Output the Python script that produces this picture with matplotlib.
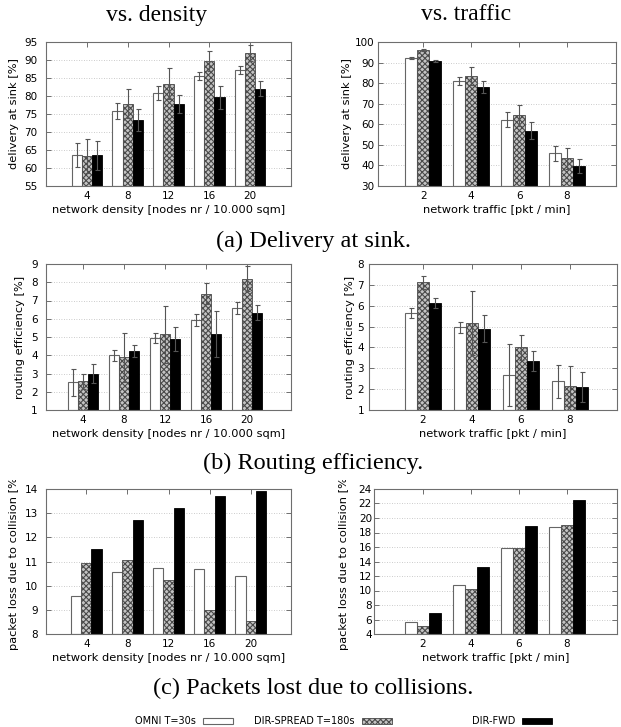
import matplotlib
matplotlib.use("Agg")
import matplotlib.pyplot as plt
import numpy as np
from matplotlib.patches import Rectangle
from matplotlib.transforms import Bbox, TransformedBbox

# ---------------- data ----------------
series_labels = ["OMNI T=30s", "DIR-SPREAD T=180s", "DIR-FWD"]
density_cats = ["4", "8", "12", "16", "20"]
traffic_cats = ["2", "4", "6", "8"]

# (a) delivery at sink vs density
deliv_dens_omni = [63.7, 75.9, 80.8, 85.5, 87.3]
deliv_dens_omni_err = [3.35, 2.2, 1.9, 1.15, 1.1]
deliv_dens_spread = [63.3, 77.9, 83.4, 89.7, 91.9]
deliv_dens_spread_err = [4.7, 4.0, 4.3, 2.7, 2.3]
deliv_dens_fwd = [63.5, 73.4, 77.8, 79.6, 82.0]
deliv_dens_fwd_err = [4.1, 3.0, 2.6, 3.1, 2.1]

# (a) delivery at sink vs traffic
deliv_traf_omni = [92.1, 81.1, 62.3, 45.8]
deliv_traf_omni_err = [0.6, 1.95, 3.85, 3.75]
deliv_traf_spread = [96.1, 83.5, 64.3, 43.4]
deliv_traf_spread_err = [0.5, 4.5, 5.1, 4.9]
deliv_traf_fwd = [90.8, 78.0, 56.8, 39.7]
deliv_traf_fwd_err = [0.3, 2.8, 4.1, 3.2]

# (b) routing efficiency vs density
route_dens_omni = [2.51, 4.0, 4.95, 5.94, 6.59]
route_dens_omni_err = [0.76, 0.29, 0.29, 0.33, 0.32]
route_dens_spread = [2.58, 3.89, 5.15, 7.38, 8.2]
route_dens_spread_err = [0.42, 1.34, 1.57, 0.59, 0.69]
route_dens_fwd = [3.0, 4.22, 4.90, 5.17, 6.33]
route_dens_fwd_err = [0.5, 0.33, 0.64, 1.25, 0.42]

# (b) routing efficiency vs traffic
route_traf_omni = [5.65, 4.96, 2.67, 2.37]
route_traf_omni_err = [0.24, 0.28, 1.49, 0.8]
route_traf_spread = [7.12, 5.17, 4.01, 2.16]
route_traf_spread_err = [0.32, 1.55, 0.6, 0.97]
route_traf_fwd = [6.15, 4.9, 3.35, 2.08]
route_traf_fwd_err = [0.24, 0.66, 0.5, 0.72]

# (c) packet loss due to collision
coll_dens_omni = [9.56, 10.55, 10.72, 10.67, 10.42]
coll_dens_spread = [10.95, 11.05, 10.22, 9.0, 8.52]
coll_dens_fwd = [11.52, 12.7, 13.23, 13.72, 13.92]

coll_traf_omni = [5.6, 10.75, 15.8, 18.7]
coll_traf_spread = [5.15, 10.25, 15.8, 19.0]
coll_traf_fwd = [6.85, 13.3, 18.9, 22.5]

titles = ["vs. density", "vs. traffic"]
captions = ["(a) Delivery at sink.", "(b) Routing efficiency.",
            "(c) Packets lost due to collisions."]
xlabel_dens = "network density [nodes nr / 10.000 sqm]"
xlabel_traf = "network traffic [pkt / min]"
ylabels = ["delivery at sink [%]", "routing efficiency [%]",
           "packet loss due to collision [%]"]

# ---------------- style ----------------
plt.rcParams['font.family'] = ['DejaVu Sans']
plt.rcParams['hatch.linewidth'] = 0.8
W, H = 621, 727
fig = plt.figure(figsize=(W / 100, H / 100), dpi=100)

FRAME = '#6e6e6e'
ERR = '#555555'
styles = [
    dict(facecolor='white', edgecolor='#666666', linewidth=0.8),
    dict(facecolor='#c4c4c4', edgecolor='#4a4a4a', linewidth=0.6,
         hatch='xxxxxx'),
    dict(facecolor='black', edgecolor='black', linewidth=0.6),
]


def px_axes(x0, x1, y0, y1):
    return fig.add_axes([x0 / W, 1 - y1 / H, (x1 - x0) / W, (y1 - y0) / H])


def draw(ax, cats, series, errs, ylim, ystep, xlim, xlabel, ylabel,
         ypad, ylabpad):
    n = len(cats)
    x = np.arange(1, n + 1)
    w = 0.25
    offs = [-w, 0, w]
    for i, vals in enumerate(series):
        st = dict(styles[i])
        ax.bar(x + offs[i], np.array(vals) - ylim[0], width=w,
               bottom=ylim[0], zorder=2, **st)
        if errs is not None:
            ax.errorbar(x + offs[i], vals, yerr=errs[i], fmt='none',
                        ecolor=ERR, elinewidth=0.8, capsize=1.8,
                        capthick=0.8, zorder=3)
    ax.set_xlim(*xlim)
    ax.set_ylim(*ylim)
    ax.set_xticks(x)
    ax.set_xticklabels(cats)
    ax.set_yticks(np.arange(ylim[0], ylim[1] + ystep * 0.01, ystep))
    ax.yaxis.grid(True, linestyle=(0, (1, 2)), color='#bbbbbb',
                  linewidth=0.6)
    ax.set_axisbelow(True)
    for s in ax.spines.values():
        s.set_color(FRAME)
        s.set_linewidth(0.8)
    ax.tick_params(direction='in', length=3.5, width=0.7, color=FRAME,
                   top=True, right=True, labelsize=7.5)
    ax.tick_params(axis='x', pad=3.5)
    ax.tick_params(axis='y', pad=ypad)
    ax.set_xlabel(xlabel, fontsize=8.2, labelpad=3)
    ax.set_ylabel(ylabel, fontsize=8.2, labelpad=ylabpad)


# row a
ax = px_axes(46, 291, 42, 186)
draw(ax, density_cats, [deliv_dens_omni, deliv_dens_spread, deliv_dens_fwd],
     [deliv_dens_omni_err, deliv_dens_spread_err, deliv_dens_fwd_err],
     (55, 95), 5, (0, 6), xlabel_dens, ylabels[0], 6, 4)
ax = px_axes(378, 616, 42, 186)
draw(ax, traffic_cats, [deliv_traf_omni, deliv_traf_spread, deliv_traf_fwd],
     [deliv_traf_omni_err, deliv_traf_spread_err, deliv_traf_fwd_err],
     (30, 100), 10, (0.06, 5.02), xlabel_traf, ylabels[0], 2.5, 2)

# row b
ax = px_axes(46, 291, 264, 410)
draw(ax, density_cats, [route_dens_omni, route_dens_spread, route_dens_fwd],
     [route_dens_omni_err, route_dens_spread_err, route_dens_fwd_err],
     (1, 9), 1, (0.1, 6.07), xlabel_dens, ylabels[1], 6, 4)
ax = px_axes(369, 617, 264, 410)
draw(ax, traffic_cats, [route_traf_omni, route_traf_spread, route_traf_fwd],
     [route_traf_omni_err, route_traf_spread_err, route_traf_fwd_err],
     (1, 8), 1, (-0.1, 4.96), xlabel_traf, ylabels[1], 3.5, 2)

# row c
clip = TransformedBbox(Bbox([[0, 0], [1, 1 - 480 / H]]), fig.transFigure)
ax = px_axes(46, 291, 489, 634)
draw(ax, density_cats, [coll_dens_omni, coll_dens_spread, coll_dens_fwd],
     None, (8, 14), 1, (0.02, 5.98), xlabel_dens, ylabels[2], 6, 4)
ax.yaxis.label.set_clip_on(True)
ax.yaxis.label.set_clip_box(clip)
ax = px_axes(374, 617, 489, 634)
draw(ax, traffic_cats, [coll_traf_omni, coll_traf_spread, coll_traf_fwd],
     None, (4, 24), 2, (-0.02, 5.04), xlabel_traf, ylabels[2], 1.5, 7)
ax.yaxis.label.set_clip_on(True)
ax.yaxis.label.set_clip_box(clip)

# titles & captions
serif = ['Liberation Serif', 'DejaVu Serif']
fig.text(157 / W, 1 - 15 / H, titles[0], ha='center', va='center',
         fontsize=17, family=serif)
fig.text(466 / W, 1 - 15 / H, titles[1], ha='center', va='center',
         fontsize=17, family=serif)
for yy, cap in zip([241, 463, 688], captions):
    fig.text(313 / W, 1 - yy / H, cap, ha='center', va='center',
             fontsize=17.5, family=serif)

# legend (text then sample box, gnuplot style)
leg_y = 721
text_right = [196, 355, 515]
box_left = [203, 362, 522]
for i, lab in enumerate(series_labels):
    fig.text(text_right[i] / W, 1 - leg_y / H, lab, ha='right', va='center',
             fontsize=7)
    st = dict(styles[i])
    r = Rectangle((box_left[i] / W, 1 - (leg_y + 3) / H), 30 / W, 6 / H,
                  transform=fig.transFigure, **st)
    fig.add_artist(r)

fig.savefig("out.png", dpi=100)
